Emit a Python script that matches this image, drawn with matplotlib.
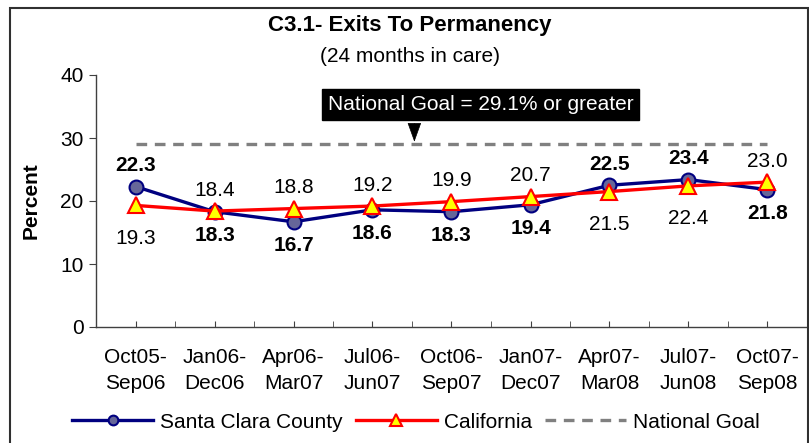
import matplotlib
matplotlib.use("Agg")
import matplotlib.pyplot as plt
from matplotlib.patches import Rectangle
import numpy as np

plt.rcParams['font.family'] = ['Liberation Sans', 'DejaVu Sans']

categories = ["Oct05-\nSep06", "Jan06-\nDec06", "Apr06-\nMar07", "Jul06-\nJun07",
              "Oct06-\nSep07", "Jan07-\nDec07", "Apr07-\nMar08", "Jul07-\nJun08",
              "Oct07-\nSep08"]
santa_clara = [22.3, 18.3, 16.7, 18.6, 18.3, 19.4, 22.5, 23.4, 21.8]
california = [19.3, 18.4, 18.8, 19.2, 19.9, 20.7, 21.5, 22.4, 23.0]
national_goal = 29.1
y_ticks = [0, 10, 20, 30, 40]

W, H = 809, 443
fig = plt.figure(figsize=(W / 100, H / 100), dpi=100)
ax = fig.add_axes([96 / W, 1 - 327 / H, (807 - 96) / W, (327 - 75) / H])

x = np.arange(len(categories))

ax.plot(x, [national_goal] * len(x), color='#808080', lw=2.4,
        dashes=(3.2, 2.3), label='National Goal', zorder=2)
ax.plot(x, santa_clara, color='#000080', lw=2.4, marker='o', ms=10,
        mfc='#666699', mec='#000080', mew=1.5, label='Santa Clara County', zorder=3)
ax.plot(x, california, color='#FF0000', lw=2.4, marker='^', ms=12,
        mfc='#FFFF00', mec='#FF0000', mew=1.5, label='California', zorder=4)

ax.set_xlim(-0.5, len(x) - 0.5)
ax.set_ylim(0, 40)
ax.set_yticks(y_ticks)
ax.set_xticks(x)
ax.set_xticklabels(categories, fontsize=15, linespacing=1.5)
ax.set_xticks(np.arange(-0.5, len(x), 1.0), minor=True)
ax.tick_params(axis='x', which='both', direction='in', length=4, color='#404040', pad=15)
ax.tick_params(axis='y', direction='out', length=5, color='#404040', labelsize=15, pad=4)
for s in ['top', 'right']:
    ax.spines[s].set_visible(False)
for s in ['left', 'bottom']:
    ax.spines[s].set_color('#404040')
    ax.spines[s].set_linewidth(1.0)

ax.set_ylabel('Percent', fontsize=15, fontweight='bold', labelpad=14)

px = 0.72
for i, (sc, ca) in enumerate(zip(santa_clara, california)):
    if sc > ca:
        sc_off, ca_off = 21, -33
    else:
        sc_off, ca_off = -24, 21
    ax.annotate(f"{sc:.1f}", (i, sc), xytext=(0, sc_off * px), textcoords='offset points',
                ha='center', va='center', fontsize=15, fontweight='bold', zorder=5)
    ax.annotate(f"{ca:.1f}", (i, ca), xytext=(0, ca_off * px), textcoords='offset points',
                ha='center', va='center', fontsize=15, zorder=5)

# goal callout
ax.text(4.37, 35.3, "National Goal = 29.1% or greater", ha='center', va='center',
        fontsize=15, color='white',
        bbox=dict(boxstyle='square,pad=0.28', fc='black', ec='black'), zorder=6)
ax.annotate("", xy=(3.53, national_goal + 0.3), xytext=(3.53, 32.3),
            arrowprops=dict(arrowstyle='-|>,head_length=1.25,head_width=0.45',
                            color='black', lw=0.5, shrinkA=0, shrinkB=0), zorder=6)

fig.text(410 / W, 1 - 25 / H, "C3.1- Exits To Permanency", ha='center', va='center',
         fontsize=16, fontweight='bold')
fig.text(410 / W, 1 - 56 / H, "(24 months in care)", ha='center', va='center', fontsize=15)

handles, labels = ax.get_legend_handles_labels()
order = [1, 2, 0]
fig.legend([handles[i] for i in order], [labels[i] for i in order],
           loc='center', bbox_to_anchor=(416 / W, 1 - 422 / H), ncol=3, frameon=False,
           fontsize=15, handlelength=3.9, handletextpad=0.35, columnspacing=0.6,
           markerscale=0.7)

fig.add_artist(Rectangle((10 / W, -0.05), (807.5 - 10) / W, 1.05 - 8 / H,
                         transform=fig.transFigure, fill=False, ec='#303030', lw=1.5))

fig.savefig('out.png', dpi=100)
